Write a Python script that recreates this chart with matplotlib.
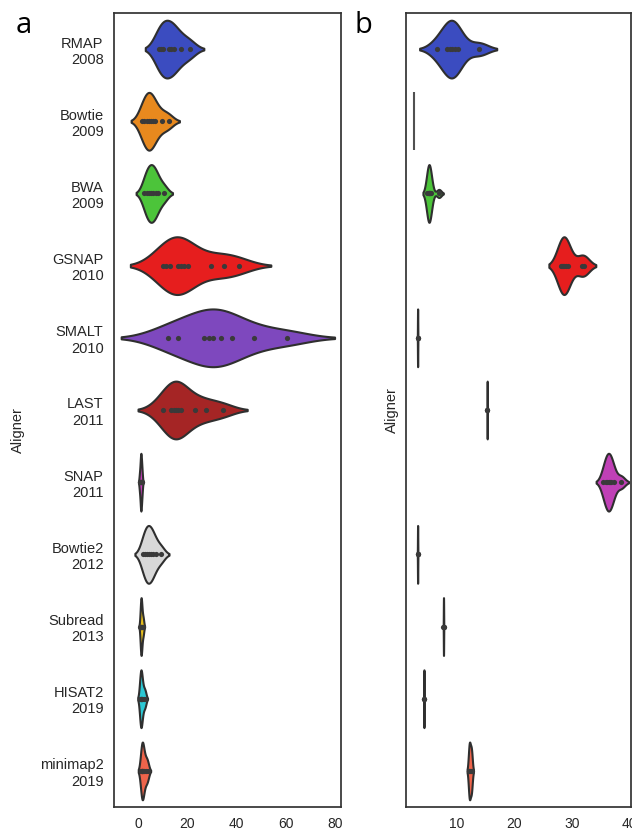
import numpy as np
import matplotlib
matplotlib.use("Agg")
import matplotlib.pyplot as plt

# ---------------- data ----------------
aligners = ["RMAP", "Bowtie", "BWA", "GSNAP", "SMALT", "LAST", "SNAP",
            "Bowtie2", "Subread", "HISAT2", "minimap2"]
years = ["2008", "2009", "2009", "2010", "2010", "2011", "2011",
         "2012", "2013", "2019", "2019"]
colors = ["#3b4cc0", "#e8891e", "#4cc43a", "#e61e1e", "#7e48be", "#a52525",
          "#c040b6", "#d8d8d8", "#e5be1e", "#2cc8d4", "#ee644b"]

# panel a values
a_rmap = [8.5, 9.3, 10.0, 12.6, 13.5, 14.6, 17.5, 21.0]
a_bowtie = [1.5, 2.5, 3.5, 4.2, 5.0, 5.8, 6.8, 9.5, 12.3]
a_bwa = [2.5, 3.5, 4.5, 5.2, 6.0, 7.0, 8.0, 10.5]
a_gsnap = [9.9, 11.2, 13.0, 16.3, 17.4, 18.7, 20.4, 29.5, 34.7, 40.8]
a_smalt = [12.2, 16.0, 26.8, 28.9, 30.2, 33.6, 38.3, 46.9, 60.7]
a_last = [9.9, 13.3, 14.6, 15.3, 16.0, 17.4, 23.2, 27.5, 34.3]
a_snap = [0.5, 0.8, 1.0, 1.0, 1.1, 1.3, 1.5]
a_bowtie2 = [1.8, 2.8, 3.5, 4.2, 5.0, 5.8, 7.0, 9.3]
a_subread = [0.8, 1.0, 1.1, 1.2, 1.3, 1.6, 2.0]
a_hisat2 = [0.7, 0.9, 1.0, 1.1, 1.3, 1.6, 2.2, 2.8]
a_minimap2 = [1.2, 1.4, 1.5, 1.7, 2.0, 2.5, 3.2, 3.8]

# panel b values
b_rmap = [6.6, 8.3, 8.8, 9.2, 9.7, 10.3, 13.9]
b_bowtie = [2.6, 2.6, 2.6]
b_bwa = [4.9, 5.0, 5.1, 5.1, 5.2, 5.3, 5.4, 5.5, 6.9]
b_gsnap = [28.1, 28.3, 28.5, 28.7, 29.0, 29.3, 31.8, 32.1]
b_smalt = [3.18, 3.2, 3.22]
b_last = [15.28, 15.3, 15.32]
b_snap = [35.5, 35.9, 36.2, 36.4, 36.6, 36.9, 37.3, 38.6]
b_bowtie2 = [3.18, 3.2, 3.22]
b_subread = [7.68, 7.7, 7.72]
b_hisat2 = [4.28, 4.3, 4.32]
b_minimap2 = [12.1, 12.2, 12.3, 12.5, 12.6]

panel_a = [a_rmap, a_bowtie, a_bwa, a_gsnap, a_smalt, a_last, a_snap,
           a_bowtie2, a_subread, a_hisat2, a_minimap2]
panel_b = [b_rmap, b_bowtie, b_bwa, b_gsnap, b_smalt, b_last, b_snap,
           b_bowtie2, b_subread, b_hisat2, b_minimap2]

a_ticks = [0, 20, 40, 60, 80]
b_ticks = [10, 20, 30, 40]

# ---------------- drawing ----------------
EDGE = "#2f2f2f"
TEXT = "#262626"
plt.rcParams["font.family"] = ["Liberation Sans", "DejaVu Sans"]

W, H = 632, 830
fig = plt.figure(figsize=(W / 100, H / 100), dpi=100)

def px_axes(l, r, t, b):
    return fig.add_axes([l / W, 1 - b / H, (r - l) / W, (b - t) / H])

ax_a = px_axes(114, 341, 13, 807)
ax_b = px_axes(406, 631, 13, 807)


def kde(data, gridsize=100, cut=2):
    data = np.asarray(data, float)
    n = len(data)
    bw = n ** (-1 / 5) * data.std(ddof=1)
    support = np.linspace(data.min() - cut * bw, data.max() + cut * bw, gridsize)
    dens = np.exp(-0.5 * ((support[:, None] - data[None, :]) / bw) ** 2).sum(1)
    return support, dens / dens.max()


def violins(ax, groups):
    half = 0.4
    for i, (vals, col) in enumerate(zip(groups, colors)):
        vals = np.asarray(vals, float)
        if np.unique(vals).size == 1:
            v = vals[0]
            ax.plot([v, v], [i - half, i + half], color="#505050", lw=1.5,
                    solid_capstyle="butt", zorder=2)
            continue
        sup, d = kde(vals)
        ax.fill_between(sup, i - d * half, i + d * half, facecolor=col,
                        edgecolor=EDGE, linewidth=1.5, zorder=2)
        ax.scatter(vals, np.full(len(vals), i), s=14, color="#3a3a3a",
                   edgecolor="#3a3a3a", linewidths=0, zorder=3)


violins(ax_a, panel_a)
violins(ax_b, panel_b)

for ax in (ax_a, ax_b):
    ax.set_ylim(len(aligners) - 0.5, -0.5)
    for s in ax.spines.values():
        s.set_color("#333333")
        s.set_linewidth(1.25)
    ax.tick_params(length=0, colors=TEXT, labelsize=10)
    ax.tick_params(axis="x", pad=7)
    ax.set_ylabel("Aligner", fontsize=10.5, color=TEXT)

ax_a.set_xlim(-9.9, 82.5)
ax_a.set_xticks(a_ticks)
ax_a.set_yticks(range(len(aligners)))
ax_a.set_yticklabels([f"{n}\n{y}" for n, y in zip(aligners, years)],
                     ha="right", multialignment="right", fontsize=10.5)
ax_a.tick_params(axis="y", pad=7.5)
ax_a.yaxis.set_label_coords(-0.392, 0.475)

ax_b.set_xlim(1.18, 40.3)
ax_b.set_xticks(b_ticks)
ax_b.set_yticks(range(len(aligners)))
ax_b.set_yticklabels([])
ax_b.yaxis.set_label_coords(-0.031, 0.5)

fig.text(23.5 / W, 1 - 33 / H, "a", fontsize=21, family=["Open Sans", "DejaVu Sans"],
         ha="center", va="baseline", color="black")
fig.text(363 / W, 1 - 33 / H, "b", fontsize=21, family=["Open Sans", "DejaVu Sans"],
         ha="center", va="baseline", color="black")

fig.savefig("out.png", dpi=100, facecolor="white")
